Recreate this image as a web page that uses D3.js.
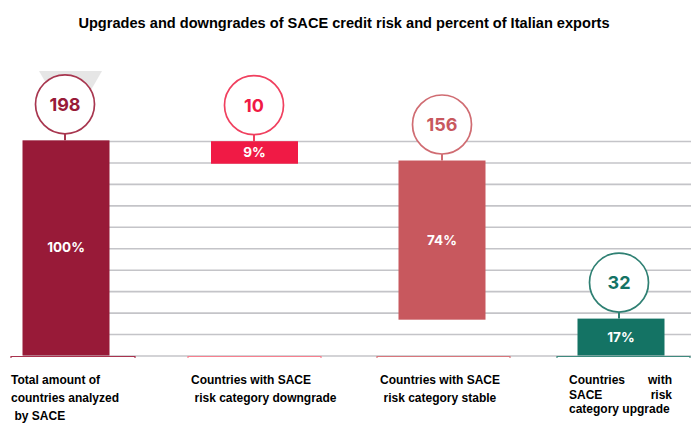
<!DOCTYPE html>
<html>
<head>
<meta charset="utf-8">
<script src="https://cdnjs.cloudflare.com/ajax/libs/d3/7.8.5/d3.min.js"></script>
<style>
  html, body { margin: 0; padding: 0; background: #fff; }
  svg { display: block; }
  .label { font: bold 12px "Liberation Sans", Arial, sans-serif; fill: #000; }
  .badge { font-family: Inter, "Open Sans", sans-serif; font-weight: 700; text-anchor: middle; }
</style>
</head>
<body>
<div id="chart"></div>
<script>
// values
const categories = ['total', 'downgrade', 'stable', 'upgrade'];
const counts = [198, 10, 156, 32];
const percents = ['100%', '9%', '74%', '17%'];
const barTops = [100.3, 99.9, 90.9, 17.2];
const barBases = [0, 89.4, 16.7, 0];
const colours = ['#981a38', '#f01a45', '#c8585e', '#147364'];
const strokeColours = ['#a8364f', '#f0405f', '#d06c72', '#2f8073'];
const yTicks = [0, 10, 20, 30, 40, 50, 60, 70, 80, 90, 100];
const labelLines = [
  ['Total amount of', 'countries analyzed', ' by SACE'],
  ['Countries with SACE', ' risk category downgrade'],
  ['Countries with SACE', ' risk category stable'],
  ['Countries with', 'SACE risk', 'category upgrade']
];

const width = 697;
const height = 428;

const svg = d3.select('#chart').append('svg')
  .attr('width', width)
  .attr('height', height);

svg.append('text')
  .attr('x', 344)
  .attr('y', 28)
  .attr('text-anchor', 'middle')
  .style('font', 'bold 14.6px "Liberation Sans", Arial, sans-serif')
  .text('Upgrades and downgrades of SACE credit risk and percent of Italian exports');

const y = d3.scaleLinear().domain([0, 100]).range([355.5, 141]);

// bars are not evenly spaced in the original, so the band centres are explicit
const x = d3.scaleOrdinal().domain(categories).range([66, 254.5, 442, 621]);
const barWidth = 87;
const circleR = 29.5;
const stemLen = 6.5;
const badgeShift = [-1, -0.5, 0, -2];

// grey corner triangle behind the first badge
svg.append('path')
  .attr('d', d3.line()([[39, 71], [102, 71], [84, 102], [57, 102]]))
  .attr('fill', '#e6e6e6');

// gridlines
const grid = svg.append('g')
  .attr('transform', 'translate(23,0)')
  .call(d3.axisLeft(y).tickValues(yTicks).tickSize(-668).tickFormat(''));
grid.select('.domain').remove();
grid.selectAll('line').attr('stroke', '#c4c4c8').attr('stroke-width', 1.6);

// bracket under each category
const bracketW = [124, 133, 133, 133];
const bracketX = [11, 188, 377, 557];
const bracketColours = ['#a8324e', '#f7808f', '#d8767c', '#3f8a7e'];
svg.selectAll('.bracket')
  .data(categories)
  .join('path')
  .attr('class', 'bracket')
  .attr('fill', 'none')
  .attr('stroke', (d, i) => bracketColours[i])
  .attr('stroke-width', 1.2)
  .attr('d', (d, i) => `M${bracketX[i]},358V356.5H${bracketX[i] + bracketW[i]}V358`);

// stems
svg.selectAll('.stem')
  .data(categories)
  .join('line')
  .attr('class', 'stem')
  .attr('x1', (d, i) => x(d) + badgeShift[i])
  .attr('x2', (d, i) => x(d) + badgeShift[i])
  .attr('y1', (d, i) => y(barTops[i]))
  .attr('y2', (d, i) => y(barTops[i]) - stemLen)
  .attr('stroke', (d, i) => strokeColours[i])
  .attr('stroke-width', 2);

// bars
svg.selectAll('.bar')
  .data(categories)
  .join('rect')
  .attr('class', 'bar')
  .attr('x', d => x(d) - barWidth / 2)
  .attr('width', barWidth)
  .attr('y', (d, i) => y(barTops[i]))
  .attr('height', (d, i) => y(barBases[i]) - y(barTops[i]))
  .attr('fill', (d, i) => colours[i]);

// percent inside the bar
svg.selectAll('.pct')
  .data(categories)
  .join('text')
  .attr('class', 'badge pct')
  .attr('x', d => x(d))
  .attr('y', (d, i) => (y(barTops[i]) + y(barBases[i])) / 2 + 4.5)
  .attr('fill', '#fff')
  .style('font-size', '13.5px')
  .text((d, i) => percents[i]);

// count badges
const badge = svg.selectAll('.count')
  .data(categories)
  .join('g')
  .attr('class', 'count')
  .attr('transform', (d, i) => `translate(${x(d) + badgeShift[i]},${y(barTops[i]) - stemLen - circleR})`);

badge.append('circle')
  .attr('r', circleR)
  .attr('fill', '#fff')
  .attr('stroke', (d, i) => strokeColours[i])
  .attr('stroke-width', 1.7);

badge.append('text')
  .attr('class', 'badge')
  .attr('y', 6.5)
  .attr('fill', (d, i) => colours[i])
  .style('font-size', '18px')
  .text((d, i) => counts[i]);

// category labels
const labelX = [11, 191, 380, 569];
const labelStep = [18, 18, 18, 14.5];
const labelY = 384;
labelLines.forEach((lines, i) => {
  lines.forEach((line, j) => {
    const ly = labelY + j * labelStep[i];
    // the last label is justified in the source
    if (i === 3 && j < 2) {
      const words = line.split(' ');
      const first = words.slice(0, -1).join(' ');
      svg.append('text').attr('class', 'label').attr('x', labelX[i]).attr('y', ly).text(first);
      svg.append('text').attr('class', 'label').attr('x', 672).attr('y', ly)
        .attr('text-anchor', 'end').text(words[words.length - 1]);
      return;
    }
    svg.append('text')
      .attr('class', 'label')
      .attr('x', labelX[i] + (line.startsWith(' ') ? 3.5 : 0))
      .attr('y', ly)
      .text(line.trim());
  });
});
</script>
</body>
</html>
